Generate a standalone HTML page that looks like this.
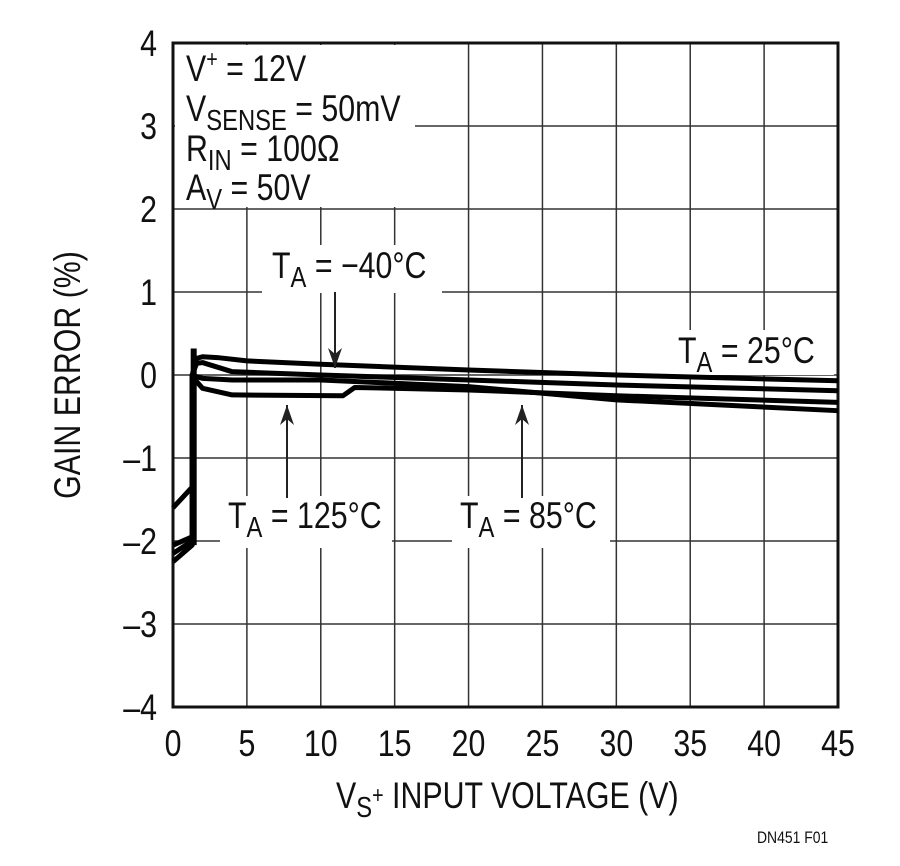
<!DOCTYPE html>
<html><head><meta charset="utf-8"><style>
html,body{margin:0;padding:0;background:#fff;}
svg{display:block;font-family:"Liberation Sans",sans-serif;}
</style></head><body>
<svg id="chart" width="900" height="866" viewBox="0 0 900 866" xmlns="http://www.w3.org/2000/svg">
<g id="grid"></g>
<g id="series"></g>
<g id="labels"></g>
</svg>
<script>
const xTicks = [0,5,10,15,20,25,30,35,40,45];
const yTicks = [4,3,2,1,0,-1,-2,-3,-4];
const seriesNames = ["25C","-40C","85C","125C"];
const vs25 = [0,1.3,1.3,1.6,2,3,5,10,20,30,45];
const ge25 = [-1.6,-1.35,0,0.2,0.22,0.21,0.17,0.13,0.06,0.0,-0.07];
const vsM40 = [0,1.3,1.3,1.6,2,4,10,20,30,45];
const geM40 = [-2.05,-1.95,0,0.14,0.15,0.04,0.0,-0.06,-0.12,-0.19];
const vs85 = [0,1.3,1.3,1.6,2,4,10,20,30,45];
const ge85 = [-2.15,-2.0,0,-0.02,-0.04,-0.06,-0.06,-0.14,-0.3,-0.43];
const vs125 = [0,1.3,1.3,1.6,2,4,11.5,12.3,20,30,45];
const ge125 = [-2.25,-2.05,0,-0.08,-0.16,-0.24,-0.25,-0.15,-0.18,-0.25,-0.33];
const riserV = [1.4,1.4];
const riserG = [-2.05,0.32];

const X0=173,X1=838,Y0=43,Y1=707;
const xs=v=>X0+(v-0)/(45-0)*(X1-X0);
const ys=g=>Y0+(4-g)/(8)*(Y1-Y0);
const NS="http://www.w3.org/2000/svg";
function mk(tag,parent){const e=document.createElementNS(NS,tag);parent.appendChild(e);return e;}
const grid=document.getElementById('grid'),ser=document.getElementById('series'),lab=document.getElementById('labels');

xTicks.forEach(t=>{
  const l=mk('line',grid);
  
  
  l.setAttribute('x1',xs(t));l.setAttribute('x2',xs(t));l.setAttribute('y1',Y0);l.setAttribute('y2',Y1);
  l.setAttribute('stroke','#333');l.setAttribute('stroke-width','1.5');
  const tx=mk('text',lab);
  
  
  tx.setAttribute('transform',`translate(${xs(t)},756) scale(0.82,1)`);
  tx.setAttribute('text-anchor','middle');tx.setAttribute('font-size','37');tx.setAttribute('fill','#111');
  tx.textContent=t;
});
yTicks.forEach(t=>{
  const l=mk('line',grid);
  
  
  l.setAttribute('x1',X0);l.setAttribute('x2',X1);l.setAttribute('y1',ys(t));l.setAttribute('y2',ys(t));
  l.setAttribute('stroke','#333');l.setAttribute('stroke-width','1.5');
  const tx=mk('text',lab);
  
  
  tx.setAttribute('transform',`translate(157,${ys(t)+13}) scale(0.82,1)`);
  tx.setAttribute('text-anchor','end');tx.setAttribute('font-size','37');tx.setAttribute('fill','#111');
  tx.textContent=t<0?'\u2013'+(-t):t;
});
const fr=mk('rect',grid);


fr.setAttribute('x',X0);fr.setAttribute('y',Y0);fr.setAttribute('width',X1-X0);fr.setAttribute('height',Y1-Y0);
fr.setAttribute('fill','none');fr.setAttribute('stroke','#111');fr.setAttribute('stroke-width','3');

[[175,45,240,162],[262,245,180,48],[220,496,172,52],[452,496,158,52],[672,330,162,45]].forEach(r=>{
  const b=mk('rect',grid);
  
  
  b.setAttribute('x',r[0]);b.setAttribute('y',r[1]);b.setAttribute('width',r[2]);b.setAttribute('height',r[3]);b.setAttribute('fill','#fff');
});

function line(vs,gs,name,w){
  const p=mk('polyline',ser);
  
  
  p.setAttribute('points',vs.map((v,i)=>xs(v)+','+ys(gs[i])).join(' '));
  p.setAttribute('fill','none');p.setAttribute('stroke','#000');p.setAttribute('stroke-width',w);p.setAttribute('stroke-linejoin','round');
}
line(vs25,ge25,'series-25c','5');
line(vsM40,geM40,'series-minus40c','5');
line(vs85,ge85,'series-85c','5');
line(vs125,ge125,'series-125c','5');
line(riserV,riserG,'step-riser','6');

function label(x,y,parts,name,fs){
  const t=mk('text',lab);
  
  
  t.setAttribute('transform',`translate(${x},${y}) scale(0.82,1)`);
  t.setAttribute('font-size',fs||37);t.setAttribute('fill','#111');
  parts.forEach(p=>{const s=mk('tspan',t);s.textContent=p[0];
    if(p[1]==='sub'){s.setAttribute('font-size','29');s.setAttribute('dy','9');}
    if(p[1]==='sup'){s.setAttribute('font-size','24');s.setAttribute('dy','-14');}
    if(p[1]==='back'){s.setAttribute('dy',p[2]);}
  });
}
label(186,81,[['V'],['+','sup'],[' = 12V','back','14']],'legend-vplus');
label(186,121,[['V'],['SENSE','sub'],[' = 50mV','back','-9']],'legend-vsense');
label(186,161,[['R'],['IN','sub'],[' = 100\u03A9','back','-9']],'legend-rin');
label(186,200,[['A'],['V','sub'],[' = 50V','back','-9']],'legend-av');
label(272,278,[['T'],['A','sub'],[' = \u221240\u00B0C','back','-9']],'label-minus40c');
label(228,528,[['T'],['A','sub'],[' = 125\u00B0C','back','-9']],'label-125c');
label(460,528,[['T'],['A','sub'],[' = 85\u00B0C','back','-9']],'label-85c');
label(678,363,[['T'],['A','sub'],[' = 25\u00B0C','back','-9']],'label-25c');
label(336,808,[['V'],['S','sub'],['+','sup'],[' INPUT VOLTAGE (V)','back','5']],'x-axis-title');
label(757,843,[['DN451 F01']],'figure-id',17);
const yt=mk('text',lab);


yt.setAttribute('transform','translate(80,375) rotate(-90) scale(0.82,1)');
yt.setAttribute('text-anchor','middle');yt.setAttribute('font-size','37');yt.setAttribute('fill','#111');
yt.textContent='GAIN ERROR (%)';

function arrow(x,y1,y2,name){
  const l=mk('line',lab);
  
  
  l.setAttribute('x1',x);l.setAttribute('x2',x);l.setAttribute('y1',y1);l.setAttribute('y2',y2);
  l.setAttribute('stroke','#222');l.setAttribute('stroke-width','2');
  const d=y2>y1?1:-1;
  const h=mk('polygon',lab);
  
  
  h.setAttribute('points',`${x},${y2} ${x-7},${y2-d*20} ${x},${y2-d*14} ${x+7},${y2-d*20}`);
  h.setAttribute('fill','#222');
}
arrow(335,292,368,'arrow-minus40c');
arrow(287,498,405,'arrow-125c');
arrow(522,498,405,'arrow-85c');
</script>
</body></html>
